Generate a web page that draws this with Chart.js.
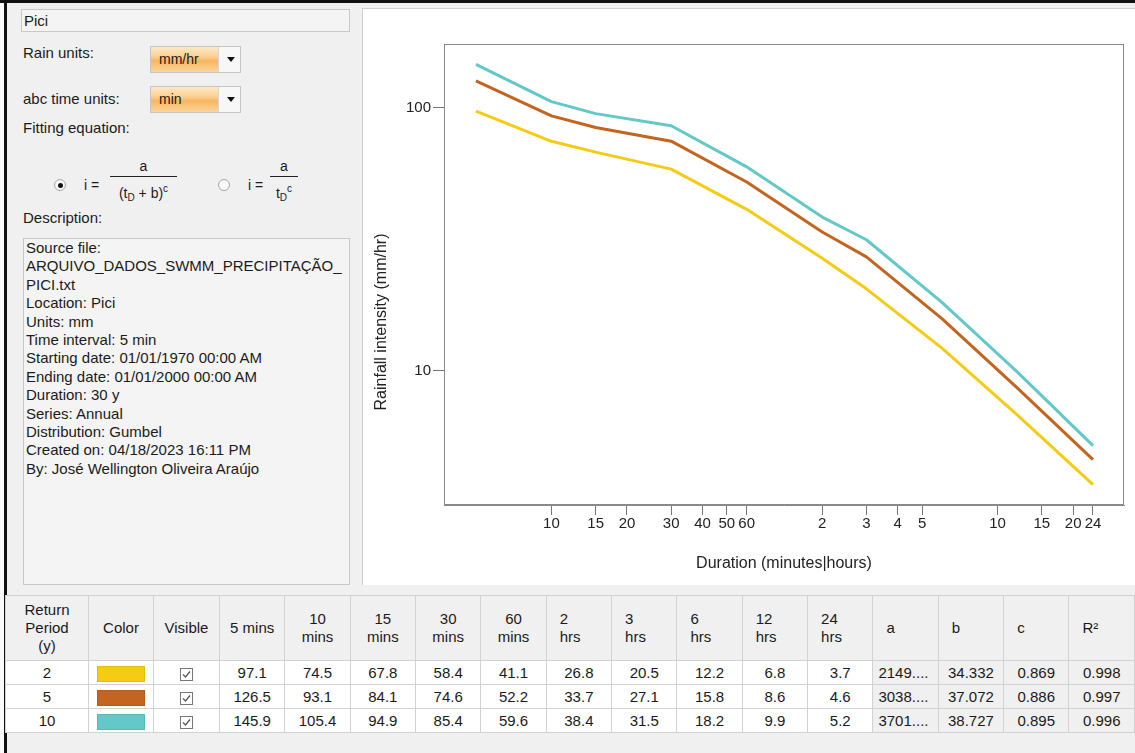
<!DOCTYPE html>
<html>
<head>
<meta charset="utf-8">
<script src="https://cdn.jsdelivr.net/npm/chart.js@4.4.1/dist/chart.umd.min.js"></script>
<style>
  html, body { margin: 0; padding: 0; }
  body {
    width: 1135px; height: 753px; position: relative; overflow: hidden;
    background: #f0f0f0; color: #1b1b1b;
    font-family: "Liberation Sans", Arial, sans-serif; font-size: 15px;
  }
  .abs { position: absolute; white-space: nowrap; }
  .lbl { line-height: 18px; }
  .textbox { border: 1px solid #c9c9c9; background: #f4f4f4; box-sizing: border-box; }
  .combo { border: 1px solid #c6c6c6; box-sizing: border-box; display: flex; }
  .combo .val {
    width: 67px; padding-left: 8px; box-sizing: border-box; font-size: 14px; line-height: 25px;
    background: linear-gradient(to bottom, #fde8c6 0%, #fbcf8e 40%, #f8b65e 55%, #fbd49c 100%);
  }
  .combo .btn { flex: 1; background: #f7f7f7; border-left: 1px solid #d6d6d6; position: relative; }
  .combo .btn:after {
    content: ""; position: absolute; left: 8px; top: 10px;
    border-left: 4px solid transparent; border-right: 4px solid transparent; border-top: 5px solid #111;
  }
  .radio {
    width: 12px; height: 12px; border-radius: 50%; box-sizing: border-box;
    border: 1px solid #a9a9a9; background: radial-gradient(circle, #ffffff 0%, #f2f2f2 100%);
  }
  .radio.on:after {
    content: ""; position: absolute; left: 2.5px; top: 2.5px; width: 5px; height: 5px;
    border-radius: 50%; background: #111;
  }
  .eq { font-size: 14px; line-height: 16px; text-align: center; }
  .eq sub { font-size: 10px; vertical-align: -3px; line-height: 0; }
  .eq sup { font-size: 10px; vertical-align: 6px; line-height: 0; }
  .bar { height: 1px; background: #222; }
  #desc { white-space: pre; line-height: 18.4px; padding: 0 0 0 2px; }
  #chartPanel { background: #fff; border-left: 1px solid #cfcfcf; border-top: 1px solid #cfcfcf; box-sizing: border-box; }
  #chart { position: absolute; left: 362px; top: 8px; }
  table.grid {
    position: absolute; left: 5px; top: 595px; width: 1130px;
    border-collapse: collapse; table-layout: fixed; font-size: 15px;
  }
  .grid th, .grid td { border: 1px solid #d2d2d2; padding: 0; overflow: hidden; }
  .grid th { background: #f0f0f0; font-weight: normal; height: 64px; line-height: 18px; text-align: center; }
  .grid th.l { text-align: left; padding-left: 13px; }
  .grid td { height: 23px; background: #fff; text-align: center; }
  .grid td.fit { background: #f0f0f0; }
  .grid td.l { text-align: left; padding-left: 5px; }
  .swatch { display: inline-block; width: 46px; height: 14px; vertical-align: middle; border: 1px solid rgba(0,0,0,0.08); }
  .check { display: inline-block; width: 13px; height: 13px; vertical-align: middle; }
</style>
</head>
<body>

<div class="abs" style="left:0;top:0;width:1135px;height:3px;background:#111;"></div>
<div class="abs" style="left:0;top:3px;width:4px;height:750px;background:#fafafa;"></div>
<div class="abs" style="left:4px;top:0;width:3px;height:753px;background:#111;"></div>

<!-- left panel -->
<div class="abs textbox" style="left:21px;top:9px;width:329px;height:23px;line-height:21px;padding-left:2px;">Pici</div>

<div class="abs lbl" style="left:23px;top:44px;">Rain units:</div>
<div class="abs combo" style="left:150px;top:46px;width:91px;height:27px;">
  <div class="val">mm/hr</div><div class="btn"></div>
</div>

<div class="abs lbl" style="left:23px;top:90px;">abc time units:</div>
<div class="abs combo" style="left:150px;top:86px;width:91px;height:27px;">
  <div class="val">min</div><div class="btn"></div>
</div>

<div class="abs lbl" style="left:23px;top:119px;">Fitting equation:</div>

<div class="abs radio on" style="left:54px;top:179px;"></div>
<div class="abs eq" style="left:84px;top:177px;">i =</div>
<div class="abs eq" style="left:110px;top:158px;width:67px;">a</div>
<div class="abs bar" style="left:110px;top:176px;width:67px;"></div>
<div class="abs eq" style="left:108px;top:185px;width:71px;">(t<sub>D</sub> + b)<sup>c</sup></div>

<div class="abs radio" style="left:218px;top:179px;"></div>
<div class="abs eq" style="left:248px;top:177px;">i =</div>
<div class="abs eq" style="left:270px;top:158px;width:28px;">a</div>
<div class="abs bar" style="left:270px;top:176px;width:28px;"></div>
<div class="abs eq" style="left:268px;top:185px;width:32px;">t<sub>D</sub><sup>c</sup></div>

<div class="abs lbl" style="left:23px;top:209px;">Description:</div>
<div class="abs textbox" id="desc" style="left:23px;top:238px;width:327px;height:347px;"></div>

<!-- chart panel -->
<div class="abs" id="chartPanel" style="left:362px;top:8px;width:773px;height:577px;"></div>
<canvas id="chart" width="773" height="577"></canvas>

<table class="grid" id="scoreTable"></table>

<script>
/* =========================
   DATA
========================= */
const durations = [5, 10, 15, 30, 60, 120, 180, 360, 720, 1440];
const durationLabels = ["5 mins", "10 mins", "15 mins", "30 mins", "60 mins", "2 hrs", "3 hrs", "6 hrs", "12 hrs", "24 hrs"];

const returnPeriods = [2, 5, 10];
const intensity2 = [97.1, 74.5, 67.8, 58.4, 41.1, 26.8, 20.5, 12.2, 6.8, 3.7];
const intensity5 = [126.5, 93.1, 84.1, 74.6, 52.2, 33.7, 27.1, 15.8, 8.6, 4.6];
const intensity10 = [145.9, 105.4, 94.9, 85.4, 59.6, 38.4, 31.5, 18.2, 9.9, 5.2];

const paramA = ["2149....", "3038....", "3701...."];
const paramB = ["34.332", "37.072", "38.727"];
const paramC = ["0.869", "0.886", "0.895"];
const rSquared = ["0.998", "0.997", "0.996"];

const xTicks = [10, 15, 20, 30, 40, 50, 60, 120, 180, 240, 300, 600, 900, 1200, 1440];
const yTicks = [10, 100];

const seriesColors = ["#F6CB16", "#C4641E", "#62C8C8"];

const descriptionLines = [
  "Source file:",
  "ARQUIVO_DADOS_SWMM_PRECIPITAÇÃO_",
  "PICI.txt",
  "Location: Pici",
  "Units: mm",
  "Time interval: 5 min",
  "Starting date: 01/01/1970 00:00 AM",
  "Ending date: 01/01/2000 00:00 AM",
  "Duration: 30 y",
  "Series: Annual",
  "Distribution: Gumbel",
  "Created on: 04/18/2023 16:11 PM",
  "By: José Wellington Oliveira Araújo",
];

const FONT = "'Liberation Sans', Arial, sans-serif";

document.getElementById("desc").textContent = descriptionLines.join("\n");

/* =========================
   CHART
========================= */
const allSeries = [intensity2, intensity5, intensity10];

const framePlugin = {
  id: "frame",
  beforeDatasetsDraw(chart) {
    const { ctx, chartArea } = chart;
    ctx.save();
    ctx.strokeStyle = "#8a8a8a";
    ctx.lineWidth = 1;
    ctx.strokeRect(
      Math.round(chartArea.left) + 0.5,
      Math.round(chartArea.top) + 0.5,
      Math.round(chartArea.right - chartArea.left) - 1,
      Math.round(chartArea.bottom - chartArea.top) - 1
    );
    ctx.restore();
  },
  afterDraw(chart) {
    // y title sits a bit lower than the plot centre in the original
    const ctx = chart.ctx;
    ctx.save();
    ctx.translate(20, 314);
    ctx.rotate(-Math.PI / 2);
    ctx.fillStyle = "#222";
    ctx.font = "16px " + FONT;
    ctx.textAlign = "center";
    ctx.textBaseline = "middle";
    ctx.fillText("Rainfall intensity (mm/hr)", 0, 0);
    ctx.restore();
  },
};

new Chart(document.getElementById("chart").getContext("2d"), {
  type: "line",
  data: {
    datasets: allSeries.map((values, s) => ({
      label: String(returnPeriods[s]),
      data: durations.map((d, i) => ({ x: d, y: values[i] })),
      borderColor: seriesColors[s],
      borderWidth: 3,
      borderJoinStyle: "round",
      pointRadius: 0,
      tension: 0,
      fill: false,
    })),
  },
  options: {
    responsive: false,
    animation: false,
    layout: { padding: { top: 36, right: 11, left: 0, bottom: 0 } },
    plugins: { legend: { display: false }, tooltip: { enabled: false } },
    scales: {
      x: {
        type: "logarithmic",
        min: 3.73,
        max: 1914,
        afterBuildTicks: (scale) => {
          scale.ticks = xTicks.map((v) => ({ value: v }));
        },
        afterFit: (scale) => {
          scale.height = 80;
        },
        ticks: {
          autoSkip: false,
          maxRotation: 0,
          padding: 0,
          color: "#222",
          font: { family: FONT, size: 15 },
          callback: (v) => (v <= 60 ? String(v) : String(v / 60)),
        },
        grid: { drawOnChartArea: false, tickLength: 10, tickColor: "#777" },
        border: { color: "#8a8a8a" },
        title: {
          display: true,
          text: "Duration (minutes|hours)",
          color: "#222",
          font: { family: FONT, size: 16 },
          padding: { top: 0, bottom: 12 },
        },
      },
      y: {
        type: "logarithmic",
        min: 3.095,
        max: 174.5,
        afterBuildTicks: (scale) => {
          scale.ticks = yTicks.map((v) => ({ value: v }));
        },
        afterFit: (scale) => {
          scale.width = 82;
        },
        ticks: {
          padding: 2,
          color: "#222",
          font: { family: FONT, size: 15 },
          callback: (v) => String(v),
        },
        grid: { drawOnChartArea: false, tickLength: 11, tickColor: "#777" },
        border: { color: "#8a8a8a" },
      },
    },
  },
  plugins: [framePlugin],
});

/* =========================
   TABLE
========================= */
function renderTable() {
  const checkSvg =
    '<svg class="check" viewBox="0 0 13 13"><rect x="0.5" y="0.5" width="12" height="12" fill="#fff" stroke="#777"/>' +
    '<polyline points="3,6.5 5.5,9 10,3.5" fill="none" stroke="#555" stroke-width="1.2"/></svg>';

  let html = `<colgroup><col style="width:83px"><col style="width:65px"><col style="width:66px">`;
  for (let i = 0; i < 14; i++) html += `<col>`;
  html += `</colgroup><thead><tr>
      <th>Return<br>Period<br>(y)</th>
      <th>Color</th>
      <th>Visible</th>`;

  durationLabels.forEach((label, i) => {
    const isHrs = label.indexOf("hrs") >= 0;
    const text = i === 0 ? label : label.replace(" ", "<br>");
    html += `<th class="${isHrs ? "l" : ""}">${text}</th>`;
  });

  html += `<th class="l">a</th><th class="l">b</th><th class="l">c</th><th class="l">R²</th>
    </tr></thead><tbody>`;

  allSeries.forEach((values, s) => {
    html += `<tr>
        <td>${returnPeriods[s]}</td>
        <td><span class="swatch" style="background:${seriesColors[s]}"></span></td>
        <td>${checkSvg}</td>`;
    values.forEach((v) => {
      html += `<td>${v.toFixed(1)}</td>`;
    });
    html += `<td class="fit l">${paramA[s]}</td>
        <td class="fit">${paramB[s]}</td>
        <td class="fit">${paramC[s]}</td>
        <td class="fit">${rSquared[s]}</td>
      </tr>`;
  });

  html += `</tbody>`;
  document.getElementById("scoreTable").innerHTML = html;
}

renderTable();
</script>
</body>
</html>
